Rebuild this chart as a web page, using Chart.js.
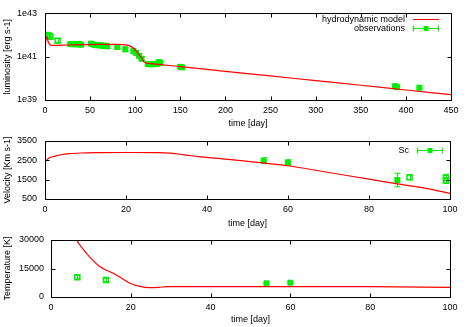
<!DOCTYPE html>
<html>
<head>
<meta charset="utf-8">
<script src="https://cdn.jsdelivr.net/npm/chart.js@4"></script>
<style>
  html, body { margin: 0; padding: 0; background: #fff; }
  #wrap { position: relative; width: 467px; height: 327px; }
  #wrap canvas { position: absolute; left: 0; top: 0; }
</style>
</head>
<body>
<div id="wrap">
  <canvas id="lumChart" width="467" height="327"></canvas>
  <canvas id="velChart" width="467" height="327"></canvas>
  <canvas id="tempChart" width="467" height="327"></canvas>
</div>
<script>
// ---- luminosity panel ----
const lumModelDays = [0, 1, 2, 3.5, 5.5, 10, 20, 40, 60, 80, 90, 95, 100, 104, 107, 110, 113, 120, 150, 200, 250, 300, 350, 400, 450];
const lumModelValues = [1.8e41, 5.6e41, 8.3e41, 5.0e41, 3.5e41, 3.3e41, 3.4e41, 3.6e41, 3.7e41, 3.7e41, 3.5e41, 3.0e41, 2.1e41, 1.26e41, 8.9e40, 5.6e40, 5.0e40, 4.7e40, 3.5e40, 2.1e40, 1.29e40, 7.8e39, 4.8e39, 2.9e39, 1.78e39];

const lumOpenDays = [2.5, 4, 6, 14];
const lumOpenValues = [1.0e42, 9.5e41, 8.3e41, 5.5e41];
const lumOpenLow = [7.9e41, 7.5e41, 6.6e41, 4.4e41];
const lumOpenHigh = [1.26e42, 1.2e42, 1.05e42, 6.9e41];

const lumObsDays = [28, 30, 32, 34, 36, 38, 40, 51, 53, 55, 57, 59, 61, 63, 65, 67, 69, 80, 89, 98, 101, 104, 107, 114, 117, 120, 124, 126, 128, 150, 152, 388, 390, 415];
const lumObsValues = [3.8e41, 3.9e41, 3.7e41, 3.9e41, 3.7e41, 3.8e41, 3.6e41, 4.0e41, 3.7e41, 3.5e41, 3.4e41, 3.5e41, 3.3e41, 3.3e41, 3.2e41, 3.2e41, 3.0e41, 2.8e41, 2.2e41, 1.8e41, 1.5e41, 1.1e41, 8.0e40, 4.6e40, 4.4e40, 4.5e40, 4.7e40, 5.6e40, 5.2e40, 3.4e40, 3.2e40, 4.3e39, 3.9e39, 3.7e39];
const lumObsLow = [3.0e41, 3.1e41, 3.0e41, 3.1e41, 3.0e41, 3.0e41, 2.9e41, 3.2e41, 3.0e41, 2.8e41, 2.7e41, 2.8e41, 2.6e41, 2.6e41, 2.6e41, 2.6e41, 2.4e41, 2.2e41, 1.7e41, 1.4e41, 1.2e41, 8.8e40, 6.4e40, 3.6e40, 3.5e40, 3.6e40, 3.7e40, 4.5e40, 4.2e40, 2.7e40, 2.6e40, 3.4e39, 3.1e39, 3.0e39];
const lumObsHigh = [4.8e41, 4.9e41, 4.6e41, 4.9e41, 4.6e41, 4.8e41, 4.5e41, 5.0e41, 4.6e41, 4.4e41, 4.3e41, 4.4e41, 4.1e41, 4.1e41, 4.0e41, 4.0e41, 3.8e41, 3.5e41, 2.8e41, 2.3e41, 1.9e41, 1.4e41, 1.0e41, 5.8e40, 5.5e40, 5.6e40, 5.9e40, 7.0e40, 6.5e40, 4.3e40, 4.0e40, 5.4e39, 4.9e39, 4.6e39];

const lumTicks = [1e39, 1e41, 1e43];

// ---- velocity panel ----
const velModelDays = [0, 1, 2.5, 4, 6, 9, 13, 20, 28, 31, 34, 38, 42, 46, 54, 60, 70, 80, 87, 94, 100];
const velModelValues = [2430, 2620, 2720, 2790, 2845, 2880, 2897, 2905, 2900, 2870, 2800, 2690, 2610, 2540, 2360, 2220, 1870, 1530, 1280, 1050, 795];

const velObsDays = [54, 60, 87];
const velObsValues = [2480, 2380, 1480];
const velObsLow = [2330, 2230, 1130];
const velObsHigh = [2630, 2530, 1830];

const velOpenDays = [90, 99, 99];
const velOpenValues = [1620, 1600, 1450];
const velOpenLow = [1500, 1420, 1300];
const velOpenHigh = [1740, 1780, 1600];

// ---- temperature panel ----
const tempModelDays = [4, 6.4, 8.9, 12.3, 15.6, 18, 19.8, 22, 24.8, 27, 29, 40, 60, 80, 100];
const tempModelValues = [40000, 30000, 23000, 15950, 12470, 9500, 7200, 5700, 4900, 5100, 5440, 5500, 5440, 5440, 5100];

const tempOpenDays = [6.6, 13.8];
const tempOpenValues = [10400, 8950];
const tempOpenLow = [9400, 8100];
const tempOpenHigh = [11400, 9800];

const tempObsDays = [54, 60];
const tempObsValues = [7200, 7550];
const tempObsLow = [6800, 7150];
const tempObsHigh = [7600, 7950];

const RED = '#ff0000';
const GREEN = '#00ee00';

document.addEventListener("DOMContentLoaded", function () {
    Chart.defaults.font.family = '"Liberation Sans", Arial, sans-serif';
    Chart.defaults.font.size = 9;
    Chart.defaults.color = '#000';
    Chart.defaults.animation = false;

    function points(xs, ys) {
        return xs.map((x, i) => ({ x: x, y: ys[i] }));
    }

    // plain numbers, no thousands separator
    const plain = v => String(v);

    // vertical error bars with small caps, drawn through the y scale
    const errorBarPlugin = {
        id: 'errorBars',
        beforeDatasetsDraw(chart) {
            const { ctx, chartArea: a } = chart;
            ctx.save();
            ctx.beginPath();
            ctx.rect(a.left, a.top, a.width, a.height);
            ctx.clip();
            ctx.strokeStyle = GREEN;
            ctx.lineWidth = 1;
            chart.data.datasets.forEach((ds, di) => {
                if (!ds.errLow) return;
                const meta = chart.getDatasetMeta(di);
                const yScale = chart.scales[meta.yAxisID];
                meta.data.forEach((pt, i) => {
                    const x = Math.round(pt.x) + 0.5;
                    const y1 = yScale.getPixelForValue(ds.errLow[i]);
                    const y2 = yScale.getPixelForValue(ds.errHigh[i]);
                    ctx.beginPath();
                    ctx.moveTo(x, y1); ctx.lineTo(x, y2);
                    ctx.moveTo(x - 3, y1); ctx.lineTo(x + 3, y1);
                    ctx.moveTo(x - 3, y2); ctx.lineTo(x + 3, y2);
                    ctx.stroke();
                });
            });
            ctx.restore();
        }
    };

    // gnuplot style box with inward ticks on all four sides
    const framePlugin = {
        id: 'frame',
        afterDraw(chart) {
            const { ctx, chartArea: a, scales } = chart;
            const L = Math.round(a.left) + 0.5, R = Math.round(a.right) + 0.5;
            const T = Math.round(a.top) + 0.5, B = Math.round(a.bottom) + 0.5;
            ctx.save();
            ctx.strokeStyle = '#000';
            ctx.lineWidth = 1;
            ctx.strokeRect(L, T, R - L, B - T);
            ctx.beginPath();
            scales.x.ticks.forEach(t => {
                const px = Math.round(scales.x.getPixelForValue(t.value)) + 0.5;
                ctx.moveTo(px, B); ctx.lineTo(px, B - 4);
                ctx.moveTo(px, T); ctx.lineTo(px, T + 4);
            });
            scales.y.ticks.forEach(t => {
                const py = Math.round(scales.y.getPixelForValue(t.value)) + 0.5;
                ctx.moveTo(L, py); ctx.lineTo(L + 4, py);
                ctx.moveTo(R, py); ctx.lineTo(R - 4, py);
            });
            ctx.stroke();
            ctx.restore();
        }
    };

    // key in the top right corner: text, then a line sample
    const keyPlugin = {
        id: 'gnuKey',
        afterDraw(chart, args, opts) {
            if (!opts.items) return;
            const ctx = chart.ctx;
            ctx.save();
            ctx.font = '9px "Liberation Sans", Arial, sans-serif';
            ctx.textAlign = 'right';
            ctx.textBaseline = 'middle';
            opts.items.forEach(item => {
                const y = item.y + 0.5;
                ctx.fillStyle = '#000';
                ctx.fillText(item.label, opts.textRight, y);
                const x1 = opts.textRight + 8, x2 = x1 + 26;
                ctx.strokeStyle = item.color;
                ctx.lineWidth = 1;
                ctx.beginPath();
                ctx.moveTo(x1, y); ctx.lineTo(x2, y);
                if (item.err) {
                    ctx.moveTo(x1 + 0.5, y - 3); ctx.lineTo(x1 + 0.5, y + 3);
                    ctx.moveTo(x2 - 0.5, y - 3); ctx.lineTo(x2 - 0.5, y + 3);
                }
                ctx.stroke();
                if (item.err) {
                    ctx.fillStyle = item.color;
                    const cx = (x1 + x2) / 2;
                    ctx.fillRect(cx - 2.5, y - 2.5, 5, 5);
                }
            });
            ctx.restore();
        }
    };

    function modelSet(xs, ys) {
        return {
            data: points(xs, ys),
            showLine: true,
            borderColor: RED,
            borderWidth: 1.2,
            pointRadius: 0,
            cubicInterpolationMode: 'monotone'
        };
    }

    function obsSet(xs, ys, lo, hi, open) {
        return {
            data: points(xs, ys),
            errLow: lo,
            errHigh: hi,
            showLine: false,
            pointStyle: 'rect',
            pointRadius: 3.5,
            borderWidth: open ? 1.5 : 1,
            borderColor: GREEN,
            backgroundColor: open ? 'rgba(0,0,0,0)' : GREEN
        };
    }

    function xAxis(max, step, boxH, titlePad) {
        return {
            type: 'linear',
            min: 0, max: max,
            grid: { display: false, drawTicks: false },
            border: { display: false },
            ticks: { stepSize: step, padding: 5, maxRotation: 0, callback: plain },
            title: { display: true, text: 'time [day]', padding: { top: 0, bottom: titlePad } },
            afterFit(scale) { scale.height = boxH; }
        };
    }

    function yTitle(text) {
        return { display: true, text: text, padding: { top: 2, bottom: 0 } };
    }

    // top panel: luminosity on a log axis
    new Chart(document.getElementById('lumChart'), {
        type: 'scatter',
        data: {
            datasets: [
                modelSet(lumModelDays, lumModelValues),
                obsSet(lumOpenDays, lumOpenValues, lumOpenLow, lumOpenHigh, true),
                obsSet(lumObsDays, lumObsValues, lumObsLow, lumObsHigh, false)
            ]
        },
        options: {
            responsive: false,
            devicePixelRatio: 1,
            layout: { padding: { top: 11, right: 16, bottom: 197, left: 0 } },
            plugins: {
                legend: { display: false },
                tooltip: { enabled: false },
                gnuKey: {
                    textRight: 405,
                    items: [
                        { label: 'hydrodynamic model', color: RED, y: 19 },
                        { label: 'observations', color: GREEN, y: 28, err: true }
                    ]
                }
            },
            scales: {
                x: xAxis(450, 50, 30, 1),
                y: {
                    type: 'logarithmic',
                    min: 1e39, max: 1e43,
                    grid: { display: false, drawTicks: false },
                    border: { display: false },
                    afterBuildTicks(scale) { scale.ticks = lumTicks.map(v => ({ value: v })); },
                    ticks: { padding: 8, callback: v => '1e' + Math.round(Math.log10(v)) },
                    title: yTitle('luminosity [erg s-1]'),
                    afterFit(scale) { scale.width = 45; }
                }
            }
        },
        plugins: [errorBarPlugin, framePlugin, keyPlugin]
    });

    // middle panel: velocity
    new Chart(document.getElementById('velChart'), {
        type: 'scatter',
        data: {
            datasets: [
                modelSet(velModelDays, velModelValues),
                obsSet(velObsDays, velObsValues, velObsLow, velObsHigh, false),
                obsSet(velOpenDays, velOpenValues, velOpenLow, velOpenHigh, true)
            ]
        },
        options: {
            responsive: false,
            devicePixelRatio: 1,
            layout: { padding: { top: 141, right: 17, bottom: 98, left: 0 } },
            plugins: {
                legend: { display: false },
                tooltip: { enabled: false },
                gnuKey: {
                    textRight: 409,
                    items: [{ label: 'Sc', color: GREEN, y: 150, err: true }]
                }
            },
            scales: {
                x: xAxis(100, 20, 30, 0),
                y: {
                    type: 'linear',
                    min: 500, max: 3500,
                    grid: { display: false, drawTicks: false },
                    border: { display: false },
                    ticks: { stepSize: 1000, padding: 8, callback: plain },
                    title: yTitle('Velocity [Km s-1]'),
                    afterFit(scale) { scale.width = 45; }
                }
            }
        },
        plugins: [errorBarPlugin, framePlugin, keyPlugin]
    });

    // bottom panel: temperature
    new Chart(document.getElementById('tempChart'), {
        type: 'scatter',
        data: {
            datasets: [
                modelSet(tempModelDays, tempModelValues),
                obsSet(tempOpenDays, tempOpenValues, tempOpenLow, tempOpenHigh, true),
                obsSet(tempObsDays, tempObsValues, tempObsLow, tempObsHigh, false)
            ]
        },
        options: {
            responsive: false,
            devicePixelRatio: 1,
            layout: { padding: { top: 240, right: 17, bottom: 0, left: 0 } },
            plugins: {
                legend: { display: false },
                tooltip: { enabled: false }
            },
            scales: {
                x: xAxis(100, 20, 30, 2),
                y: {
                    type: 'linear',
                    min: 0, max: 30000,
                    grid: { display: false, drawTicks: false },
                    border: { display: false },
                    ticks: { stepSize: 15000, padding: 7, callback: plain },
                    title: yTitle('Temperature [K]'),
                    afterFit(scale) { scale.width = 51; }
                }
            }
        },
        plugins: [errorBarPlugin, framePlugin, keyPlugin]
    });
});
</script>
</body>
</html>
